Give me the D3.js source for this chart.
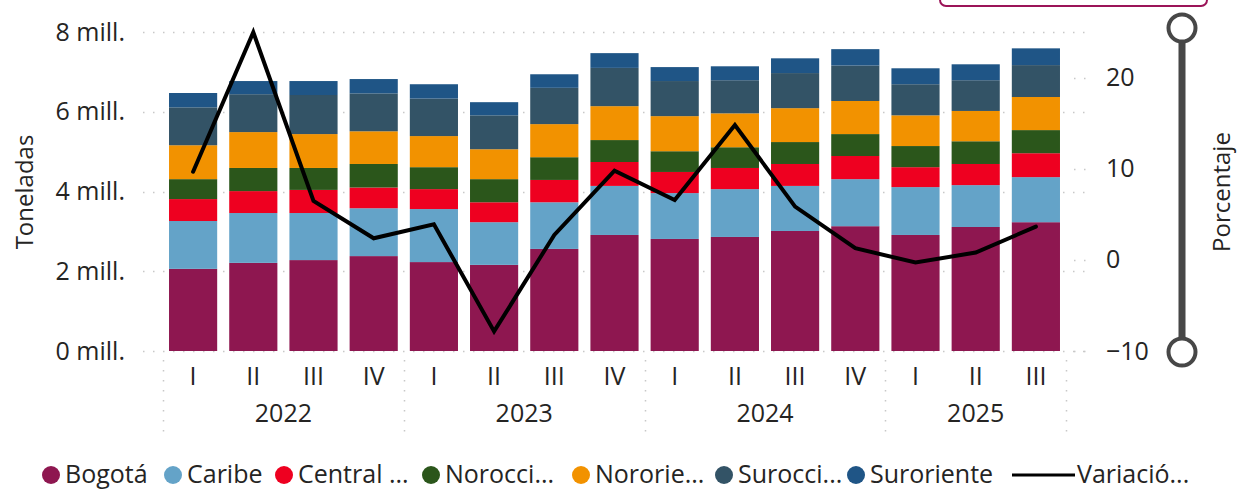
<!DOCTYPE html>
<html>
<head>
<meta charset="utf-8">
<script src="https://cdn.jsdelivr.net/npm/d3@7"></script>
<style>
  html, body { margin: 0; padding: 0; background: #fff; }
  svg { display: block; font-family: "Open Sans", "Noto Sans", sans-serif; }
</style>
</head>
<body>
<svg id="chart" width="1238" height="489"></svg>
<script>
// ---- Data ----
const years = ["2022", "2023", "2024", "2025"];
const quarters = ["I","II","III","IV","I","II","III","IV","I","II","III","IV","I","II","III"];
const quarterYears = ["2022","2022","2022","2022","2023","2023","2023","2023","2024","2024","2024","2024","2025","2025","2025"];
const seriesNames = ["Bogotá","Caribe","Central ...","Norocci...","Nororie...","Surocci...","Suroriente"];
const bogota      = [2.06,2.21,2.28,2.38,2.23,2.16,2.56,2.91,2.81,2.86,3.01,3.13,2.91,3.11,3.23];
const caribe      = [1.20,1.25,1.18,1.20,1.33,1.07,1.17,1.23,1.15,1.20,1.13,1.18,1.20,1.05,1.13];
const central     = [0.55,0.55,0.58,0.52,0.50,0.50,0.56,0.60,0.53,0.53,0.55,0.58,0.50,0.53,0.60];
const noroccidente= [0.50,0.58,0.55,0.59,0.55,0.58,0.57,0.55,0.52,0.52,0.55,0.55,0.53,0.57,0.58];
const nororiente  = [0.85,0.90,0.85,0.82,0.78,0.75,0.83,0.85,0.88,0.85,0.85,0.83,0.77,0.76,0.83];
const suroccidente= [0.95,0.95,0.98,0.95,0.94,0.85,0.91,0.96,0.88,0.83,0.88,0.89,0.78,0.77,0.80];
const suroriente  = [0.36,0.33,0.35,0.36,0.36,0.33,0.34,0.37,0.35,0.35,0.37,0.41,0.40,0.40,0.42];
const variacion   = [9.67,24.97,6.46,2.37,3.90,-7.85,2.74,9.78,6.57,14.79,5.84,1.28,-0.29,0.80,3.65];
const leftTicks = [0,2,4,6,8];
const rightTicks = [-10,0,10,20];
const colors = ["#8E1750","#64A3C8","#EE0020","#2B561B","#F29200","#335366","#1F5586"];
const lineLabel = "Variació...";

const seriesValues = [bogota, caribe, central, noroccidente, nororiente, suroccidente, suroriente];
const rows = quarters.map((q, i) => {
  const r = { key: quarterYears[i] + "-" + q, q: q, year: quarterYears[i] };
  seriesNames.forEach((s, j) => r[s] = seriesValues[j][i]);
  return r;
});

// ---- Layout ----
const svg = d3.select("#chart");
const plotTop = 32, plotBottom = 351;
const x = d3.scaleBand().domain(rows.map(r => r.key)).range([163, 1066]).paddingInner(0.2).paddingOuter(0.1);
const yL = d3.scaleLinear().domain([0, 8]).range([plotBottom, plotTop]);
const yR = d3.scaleLinear().domain([-10, 25]).range([plotBottom, plotTop]);
const font = 25;
const textColor = "#252423";

// Top-right box (partially visible)
svg.append("rect").attr("x", 940).attr("y", -20).attr("width", 267).attr("height", 26)
  .attr("rx", 6).attr("fill", "#fff").attr("stroke", "#9B1458").attr("stroke-width", 2);

// Gridlines (left axis)
svg.append("g").selectAll("line").data(leftTicks).join("line")
  .attr("x1", 143).attr("x2", 1087)
  .attr("y1", d => Math.round(yL(d)) + 0.5).attr("y2", d => Math.round(yL(d)) + 0.5)
  .attr("stroke", "#c8c8c8").attr("stroke-width", 1.5).attr("stroke-dasharray", "1.5,8.5");
// short right-axis grid stubs
svg.append("g").selectAll("line").data(rightTicks).join("line")
  .attr("x1", 1074).attr("x2", 1087)
  .attr("y1", d => Math.round(yR(d)) + 0.5).attr("y2", d => Math.round(yR(d)) + 0.5)
  .attr("stroke", "#c8c8c8").attr("stroke-width", 1.5).attr("stroke-dasharray", "1.5,8.5");

// Stacked bars
const stack = d3.stack().keys(seriesNames)(rows);
svg.append("g").selectAll("g").data(stack).join("g")
  .attr("fill", (d, i) => colors[i])
  .selectAll("rect").data(d => d).join("rect")
  .attr("x", d => x(d.data.key))
  .attr("width", x.bandwidth())
  .attr("y", d => yL(d[1]))
  .attr("height", d => yL(d[0]) - yL(d[1]));

// Line
const line = d3.line().x((d, i) => x(rows[i].key) + x.bandwidth() / 2).y(d => yR(d));
svg.append("path").datum(variacion).attr("d", line)
  .attr("fill", "none").attr("stroke", "#000").attr("stroke-width", 4)
  .attr("stroke-linejoin", "miter").attr("stroke-linecap", "round");

// Left axis
const axL = d3.axisLeft(yL).tickValues(leftTicks).tickSize(0).tickPadding(0)
  .tickFormat(d => d + " mill.");
const gL = svg.append("g").attr("transform", "translate(125,0)").call(axL);
gL.select(".domain").remove();
gL.selectAll("text").attr("font-size", font).attr("font-family", "Open Sans").attr("fill", textColor);

// Right axis
const axR = d3.axisRight(yR).tickValues(rightTicks).tickSize(0).tickPadding(0);
const gR = svg.append("g").attr("transform", "translate(1106,0)").call(axR);
gR.select(".domain").remove();
gR.selectAll("text").attr("font-size", font).attr("font-family", "Open Sans").attr("fill", textColor);

// X axis: quarter labels
svg.append("g").selectAll("text").data(rows).join("text")
  .attr("x", d => x(d.key) + x.bandwidth() / 2).attr("y", 385)
  .attr("text-anchor", "middle").attr("font-size", font).attr("fill", textColor)
  .text(d => d.q);
// Year groups
const yearExtent = years.map(yr => {
  const ks = rows.filter(r => r.year === yr);
  const step = x.step();
  const x0 = x(ks[0].key) - (step - x.bandwidth()) / 2;
  const x1 = x(ks[ks.length - 1].key) + x.bandwidth() + (step - x.bandwidth()) / 2;
  return { yr, x0, x1 };
});
svg.append("g").selectAll("text").data(yearExtent).join("text")
  .attr("x", d => (d.x0 + d.x1) / 2).attr("y", 422)
  .attr("text-anchor", "middle").attr("font-size", font).attr("fill", textColor)
  .text(d => d.yr);
const seps = [yearExtent[0].x0].concat(yearExtent.map(d => d.x1));
svg.append("g").selectAll("line").data(seps).join("line")
  .attr("x1", d => Math.round(d) + 0.5).attr("x2", d => Math.round(d) + 0.5)
  .attr("y1", 360).attr("y2", 440)
  .attr("stroke", "#c8c8c8").attr("stroke-width", 1.5).attr("stroke-dasharray", "1.5,8.5");

// Axis titles
svg.append("text").attr("transform", "translate(33,192) rotate(-90)")
  .attr("text-anchor", "middle").attr("font-size", 24).attr("fill", textColor).text("Toneladas");
svg.append("text").attr("transform", "translate(1230,192) rotate(-90)")
  .attr("text-anchor", "middle").attr("font-size", 24).attr("fill", textColor).text("Porcentaje");

// Slider
svg.append("line").attr("x1", 1182).attr("x2", 1182).attr("y1", 28).attr("y2", 352)
  .attr("stroke", "#474747").attr("stroke-width", 7);
svg.append("g").selectAll("circle").data([28, 352]).join("circle")
  .attr("cx", 1182).attr("cy", d => d).attr("r", 13.5)
  .attr("fill", "#fff").attr("stroke", "#474747").attr("stroke-width", 4);

// Legend
const legendX = [51, 173, 284, 431, 581, 724, 856];
const lg = svg.append("g");
seriesNames.forEach((s, i) => {
  lg.append("circle").attr("cx", legendX[i]).attr("cy", 475).attr("r", 9).attr("fill", colors[i]);
  lg.append("text").attr("x", legendX[i] + 14).attr("y", 483).attr("font-size", font).attr("fill", textColor).text(s);
});
lg.append("line").attr("x1", 1012).attr("x2", 1075).attr("y1", 475).attr("y2", 475)
  .attr("stroke", "#000").attr("stroke-width", 3);
lg.append("text").attr("x", 1077).attr("y", 483).attr("font-size", font).attr("fill", textColor).text(lineLabel);
</script>
</body>
</html>
